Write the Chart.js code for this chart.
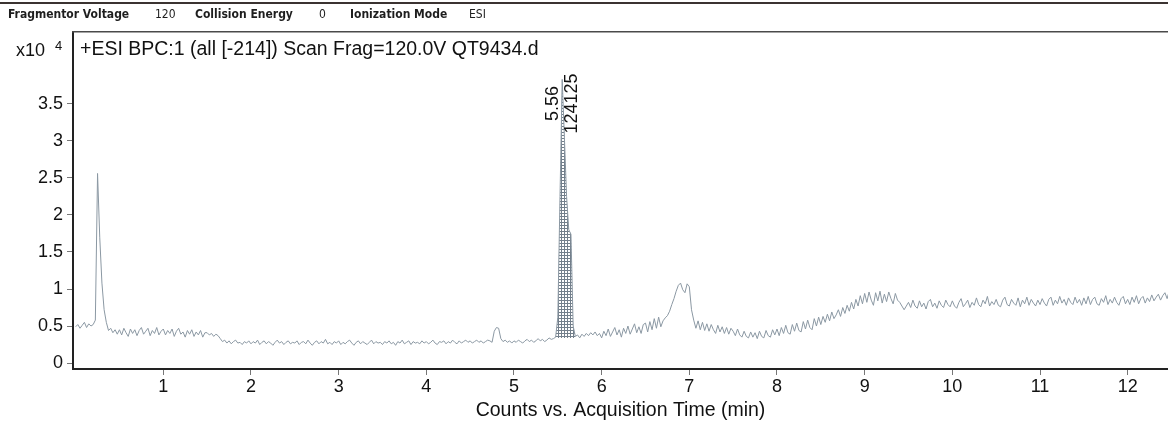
<!DOCTYPE html>
<html>
<head>
<meta charset="utf-8">
<script src="https://cdn.jsdelivr.net/npm/chart.js@4.4.1/dist/chart.umd.min.js"></script>
<style>
  html, body { margin: 0; padding: 0; background: #fff; }
  canvas { display: block; }
</style>
</head>
<body>
<canvas id="bpcChart" width="1168" height="422"></canvas>
<script>
const headerLabels = ["Fragmentor Voltage", "Collision Energy", "Ionization Mode"];
const headerValues = ["120", "0", "ESI"];
const traceTitle = "+ESI BPC:1 (all [-214]) Scan Frag=120.0V QT9434.d";
const xAxisTitle = "Counts vs. Acquisition Time (min)";
const yExponent = "4";

const xTicks = [1, 2, 3, 4, 5, 6, 7, 8, 9, 10, 11, 12];
const yTicks = [0, 0.5, 1, 1.5, 2, 2.5, 3, 3.5];

// scan grid (min) and base peak counts (x10^4), one row = 0.5 min
const scanStart = 0;
const scanStep = 0.025;
const bpcCounts = [
  0.49, 0.52, 0.47, 0.51, 0.55, 0.48, 0.53, 0.50, 0.52, 0.58, 2.56, 1.70, 1.08, 0.72, 0.55, 0.44, 0.47, 0.41, 0.45, 0.39,
  0.45, 0.38, 0.47, 0.41, 0.36, 0.46, 0.40, 0.45, 0.37, 0.44, 0.48, 0.39, 0.43, 0.47, 0.37, 0.44, 0.40, 0.48, 0.38, 0.43,
  0.46, 0.38, 0.44, 0.40, 0.46, 0.36, 0.43, 0.47, 0.39, 0.42, 0.35, 0.44, 0.39, 0.45, 0.36, 0.42, 0.38, 0.44, 0.35, 0.41,
  0.41, 0.38, 0.40, 0.36, 0.39, 0.37, 0.33, 0.29, 0.31, 0.27, 0.30, 0.26, 0.29, 0.31, 0.27, 0.28, 0.25, 0.29, 0.27, 0.30,
  0.26, 0.29, 0.27, 0.31, 0.25, 0.28, 0.30, 0.26, 0.29, 0.27, 0.24, 0.28, 0.31, 0.27, 0.29, 0.25, 0.28, 0.30, 0.26, 0.28,
  0.27, 0.30, 0.25, 0.28, 0.29, 0.26, 0.31, 0.27, 0.24, 0.28, 0.30, 0.26, 0.29, 0.27, 0.32, 0.26, 0.28, 0.25, 0.29, 0.27,
  0.30, 0.25, 0.28, 0.26, 0.29, 0.31, 0.27, 0.24, 0.28, 0.30, 0.26, 0.29, 0.27, 0.25, 0.28, 0.31, 0.26, 0.29, 0.27, 0.28,
  0.25, 0.29, 0.27, 0.30, 0.26, 0.28, 0.24, 0.29, 0.27, 0.31, 0.26, 0.28, 0.30, 0.25, 0.29, 0.27, 0.28, 0.26, 0.30, 0.27,
  0.29, 0.26, 0.28, 0.31, 0.27, 0.25, 0.29, 0.28, 0.30, 0.26, 0.29, 0.27, 0.31, 0.28, 0.26, 0.30, 0.27, 0.29, 0.31, 0.28,
  0.30, 0.27, 0.29, 0.31, 0.28, 0.30, 0.27, 0.29, 0.31, 0.30, 0.28, 0.43, 0.48, 0.47, 0.33, 0.29, 0.31, 0.28, 0.30, 0.27,
  0.30, 0.28, 0.31, 0.29, 0.27, 0.30, 0.32, 0.29, 0.31, 0.28, 0.30, 0.33, 0.30, 0.32, 0.29, 0.31, 0.34, 0.32, 0.33, 0.35,
  0.62, 2.25, 3.83, 3.05, 2.25, 1.80, 1.74, 0.50, 0.36, 0.38, 0.34, 0.39, 0.36, 0.40, 0.37, 0.41, 0.38, 0.42, 0.37, 0.40,
  0.34, 0.43, 0.37, 0.46, 0.36, 0.42, 0.48, 0.38, 0.45, 0.35, 0.47, 0.40, 0.50, 0.39, 0.46, 0.53, 0.41, 0.49, 0.40, 0.52,
  0.54, 0.42, 0.56, 0.45, 0.60, 0.47, 0.62, 0.49, 0.57, 0.61, 0.64, 0.70, 0.79, 0.87, 0.97, 1.05, 1.08, 0.99, 0.95, 1.07,
  1.03, 0.72, 0.58, 0.47, 0.57, 0.45, 0.55, 0.44, 0.53, 0.43, 0.52, 0.45, 0.40, 0.51, 0.42, 0.49, 0.40, 0.48, 0.39, 0.47,
  0.43, 0.37, 0.46, 0.38, 0.35, 0.43, 0.36, 0.34, 0.42, 0.35, 0.41, 0.33, 0.43, 0.36, 0.34, 0.44, 0.37, 0.35, 0.45, 0.38,
  0.46, 0.37, 0.48, 0.40, 0.51, 0.41, 0.39, 0.52, 0.43, 0.54, 0.44, 0.42, 0.56, 0.46, 0.58, 0.48, 0.45, 0.60, 0.50, 0.62,
  0.52, 0.63, 0.55, 0.66, 0.57, 0.69, 0.60, 0.65, 0.72, 0.63, 0.75, 0.67, 0.78, 0.70, 0.82, 0.73, 0.86, 0.77, 0.91, 0.80,
  0.94, 0.82, 0.96, 0.85, 0.78, 0.95, 0.84, 0.97, 0.81, 0.93, 0.83, 0.96, 0.87, 0.80, 0.94, 0.85, 0.82, 0.77, 0.72, 0.77,
  0.82, 0.75, 0.85, 0.77, 0.74, 0.84, 0.76, 0.81, 0.73, 0.83, 0.86, 0.76, 0.81, 0.74, 0.84, 0.78, 0.75, 0.85, 0.79, 0.76,
  0.84, 0.77, 0.74, 0.82, 0.87, 0.76, 0.80, 0.85, 0.75, 0.82, 0.78, 0.88, 0.79, 0.76, 0.85, 0.80, 0.90, 0.77, 0.83, 0.79,
  0.86, 0.78, 0.76, 0.85, 0.89, 0.79, 0.77, 0.86, 0.81, 0.78, 0.88, 0.76, 0.85, 0.80, 0.89, 0.78, 0.86, 0.81, 0.77, 0.85,
  0.79, 0.87, 0.81, 0.77, 0.86, 0.89, 0.78, 0.85, 0.80, 0.90, 0.81, 0.86, 0.78, 0.88, 0.82, 0.79, 0.89, 0.81, 0.86, 0.78,
  0.88, 0.80, 0.90, 0.79, 0.86, 0.89, 0.80, 0.78, 0.87, 0.82, 0.91, 0.79, 0.86, 0.81, 0.89, 0.82, 0.78, 0.87, 0.90, 0.80,
  0.86, 0.79, 0.89, 0.82, 0.91, 0.80, 0.87, 0.90, 0.81, 0.88, 0.83, 0.92, 0.84, 0.89, 0.93, 0.85, 0.91, 0.95, 0.87, 0.98,
];

// integrated peak
const peakRT = 5.56;
const peakArea = 124125;
const peakHeight = 3.83;
const peakFrom = 5.475;
const peakTo = 5.7;
const peakBaseline = 0.34;

const FONT = "'Liberation Sans', Arial, sans-serif";
const HEADER_FONT = "'DejaVu Sans Condensed', Tahoma, sans-serif";

const tracePoints = bpcCounts.map((y, i) => ({ x: scanStart + i * scanStep, y: y }));
const peakPoints = tracePoints.filter((p) => p.x >= peakFrom - 1e-6 && p.x <= peakTo + 1e-6);

function makeGridPattern() {
  const c = document.createElement("canvas");
  c.width = 3;
  c.height = 3;
  const g = c.getContext("2d");
  g.fillStyle = "#737f8b";
  g.fillRect(0, 0, 3, 1);
  g.fillRect(0, 0, 1, 3);
  return g.createPattern(c, "repeat");
}

const overlayPlugin = {
  id: "overlay",
  afterDraw(chart) {
    const { ctx, chartArea, scales } = chart;
    ctx.save();

    // header strip
    ctx.fillStyle = "#3b3331";
    ctx.fillRect(0, 2, chart.width, 2);
    const labelX = [8, 195, 350];
    const valueX = [155, 319, 469];
    ctx.textBaseline = "middle";
    ctx.textAlign = "left";
    ctx.fillStyle = "#1e1e1e";
    headerLabels.forEach((label, i) => {
      ctx.font = "bold 12px " + HEADER_FONT;
      ctx.fillText(label, labelX[i], 15);
      ctx.font = "12px " + HEADER_FONT;
      ctx.fillText(headerValues[i], valueX[i], 15);
    });

    // top frame of the plot
    ctx.fillStyle = "#4a4a4a";
    ctx.fillRect(chartArea.left - 1, chartArea.top - 1, chartArea.right - chartArea.left + 1, 1.5);

    // exponent label
    ctx.fillStyle = "#111";
    ctx.font = "18px " + FONT;
    ctx.fillText("x10", 16, 51);
    ctx.font = "13px " + FONT;
    ctx.fillText(yExponent, 55, 46);

    // trace title
    ctx.font = "19.5px " + FONT;
    ctx.fillText(traceTitle, chartArea.left + 7, 50);

    // peak labels
    const px = scales.x.getPixelForValue(peakRT);
    const py = scales.y.getPixelForValue(peakHeight);
    ctx.translate(px, py + 24);
    ctx.rotate(-Math.PI / 2);
    ctx.textAlign = "center";
    ctx.font = "18px " + FONT;
    ctx.textBaseline = "bottom";
    ctx.fillText(peakRT.toFixed(2), 0, -1);
    ctx.textBaseline = "top";
    ctx.fillText(String(peakArea), 0, 0);

    ctx.restore();
  },
};

const tickFont = { family: FONT, size: 18 };
const titleFont = { family: FONT, size: 19.5 };

new Chart(document.getElementById("bpcChart").getContext("2d"), {
  type: "line",
  data: {
    datasets: [
      {
        data: tracePoints,
        borderColor: "#8b98a3",
        borderWidth: 1,
        pointRadius: 0,
        tension: 0,
        fill: false,
      },
      {
        data: peakPoints,
        borderWidth: 0,
        borderColor: "rgba(0,0,0,0)",
        pointRadius: 0,
        tension: 0,
        backgroundColor: makeGridPattern(),
        fill: { value: peakBaseline },
      },
    ],
  },
  options: {
    responsive: false,
    animation: false,
    layout: { padding: { top: 32, left: 0, right: 0, bottom: 0 } },
    plugins: {
      legend: { display: false },
      tooltip: { enabled: false },
    },
    scales: {
      x: {
        type: "linear",
        min: -0.03,
        max: 12.46,
        afterBuildTicks: (scale) => {
          scale.ticks = xTicks.map((v) => ({ value: v }));
        },
        afterFit: (scale) => {
          scale.height = 53;
        },
        grid: { drawOnChartArea: false, drawTicks: true, tickLength: 6, color: "#777", lineWidth: 1 },
        border: { display: true, color: "#222", width: 2 },
        ticks: {
          color: "#111",
          font: tickFont,
          padding: 1,
          maxRotation: 0,
          autoSkip: false,
          callback: (v) => String(v),
        },
        title: {
          display: true,
          text: xAxisTitle,
          color: "#111",
          font: titleFont,
          padding: { top: 0, bottom: 0 },
        },
      },
      y: {
        type: "linear",
        min: -0.08,
        max: 4.47,
        afterBuildTicks: (scale) => {
          scale.ticks = yTicks.map((v) => ({ value: v }));
        },
        afterFit: (scale) => {
          scale.width = 73;
        },
        grid: { drawOnChartArea: false, drawTicks: true, tickLength: 6, color: "#777", lineWidth: 1 },
        border: { display: true, color: "#222", width: 2 },
        ticks: {
          color: "#111",
          font: tickFont,
          padding: 4,
          autoSkip: false,
          callback: (v) => String(v),
        },
      },
    },
  },
  plugins: [overlayPlugin],
});
</script>
</body>
</html>
